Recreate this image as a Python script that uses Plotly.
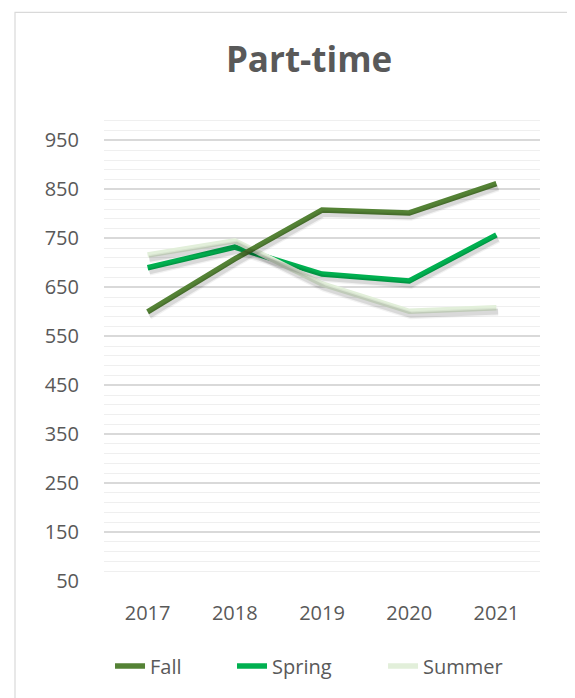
import plotly.graph_objects as go

years = ["2017", "2018", "2019", "2020", "2021"]
fall = [600, 708, 808, 802, 862]
spring = [690, 732, 677, 663, 757]
summer = [716, 745, 657, 601, 608]

series_names = ["Fall", "Spring", "Summer"]
series_values = [fall, spring, summer]
series_colors = ["#548235", "#00B050", "#E2EFDA"]
draw_order = [1, 2, 0]  # Spring, Summer, Fall on top
legend_ids = ["legend", "legend2", "legend3"]
legend_x = [0.0138, 0.2936, 0.640]

y_range = [50, 1000]
tick_vals = [50, 150, 250, 350, 450, 550, 650, 750, 850, 950]

fig = go.Figure()

# soft shadows on a slightly shifted overlay axis
for i in draw_order:
    for w, a in [(8, 0.05), (5.5, 0.10)]:
        fig.add_trace(go.Scatter(
            x=years, y=series_values[i], mode="lines",
            line=dict(color=f"rgba(0,0,0,{a})", width=w),
            xaxis="x2", yaxis="y2", showlegend=False, hoverinfo="skip",
        ))

for i in draw_order:
    fig.add_trace(go.Scatter(
        x=years, y=series_values[i], mode="lines", name=series_names[i],
        line=dict(color=series_colors[i], width=5.5),
        legend=legend_ids[i],
    ))

font_family = "Open Sans, Noto Sans, sans-serif"
label_color = "#595959"

legend_common = dict(orientation="h", xanchor="left", y=-0.183, yanchor="middle",
                     font=dict(size=20, color=label_color, family=font_family),
                     itemwidth=30, bgcolor="rgba(0,0,0,0)")

fig.update_layout(
    width=567, height=690,
    margin=dict(l=96, r=35, t=108, b=115),
    paper_bgcolor="white", plot_bgcolor="white",
    font=dict(family=font_family, color=label_color, size=20),
    title=dict(text="<b>Part-time</b>", x=0.531, xanchor="center",
               y=0.925, yanchor="middle",
               font=dict(size=35, color=label_color, family=font_family)),
    showlegend=True,
    legend=dict(x=legend_x[0], **legend_common),
    legend2=dict(x=legend_x[1], **legend_common),
    legend3=dict(x=legend_x[2], **legend_common),
    xaxis=dict(type="category", range=[-0.5, 4.5], showgrid=False, zeroline=False,
               showline=False, ticks="outside", ticklen=14, tickcolor="rgba(0,0,0,0)",
               tickfont=dict(size=20, color=label_color), fixedrange=True),
    yaxis=dict(range=y_range, tickvals=tick_vals, showgrid=True,
               gridcolor="#D9D9D9", gridwidth=1.6, zeroline=False, showline=False,
               ticks="outside", ticklen=20, tickcolor="rgba(0,0,0,0)",
               tickfont=dict(size=20, color=label_color),
               minor=dict(dtick=20, tick0=50, showgrid=True, gridcolor="#EFEFEF", gridwidth=1.3),
               fixedrange=True),
    xaxis2=dict(type="category", overlaying="x", range=[-0.5 - 0.02, 4.5 - 0.02],
                visible=False, fixedrange=True),
    yaxis2=dict(overlaying="y", range=[y_range[0] + 8, y_range[1] + 8], visible=False,
                fixedrange=True),
    shapes=[dict(type="rect", xref="paper", yref="paper",
                 x0=-0.2041, x1=1.0642, y0=-0.26, y1=1.2227,
                 line=dict(color="#D9D9D9", width=1.2), fillcolor="rgba(0,0,0,0)",
                 layer="below")],
)

fig.write_html("out.html")
